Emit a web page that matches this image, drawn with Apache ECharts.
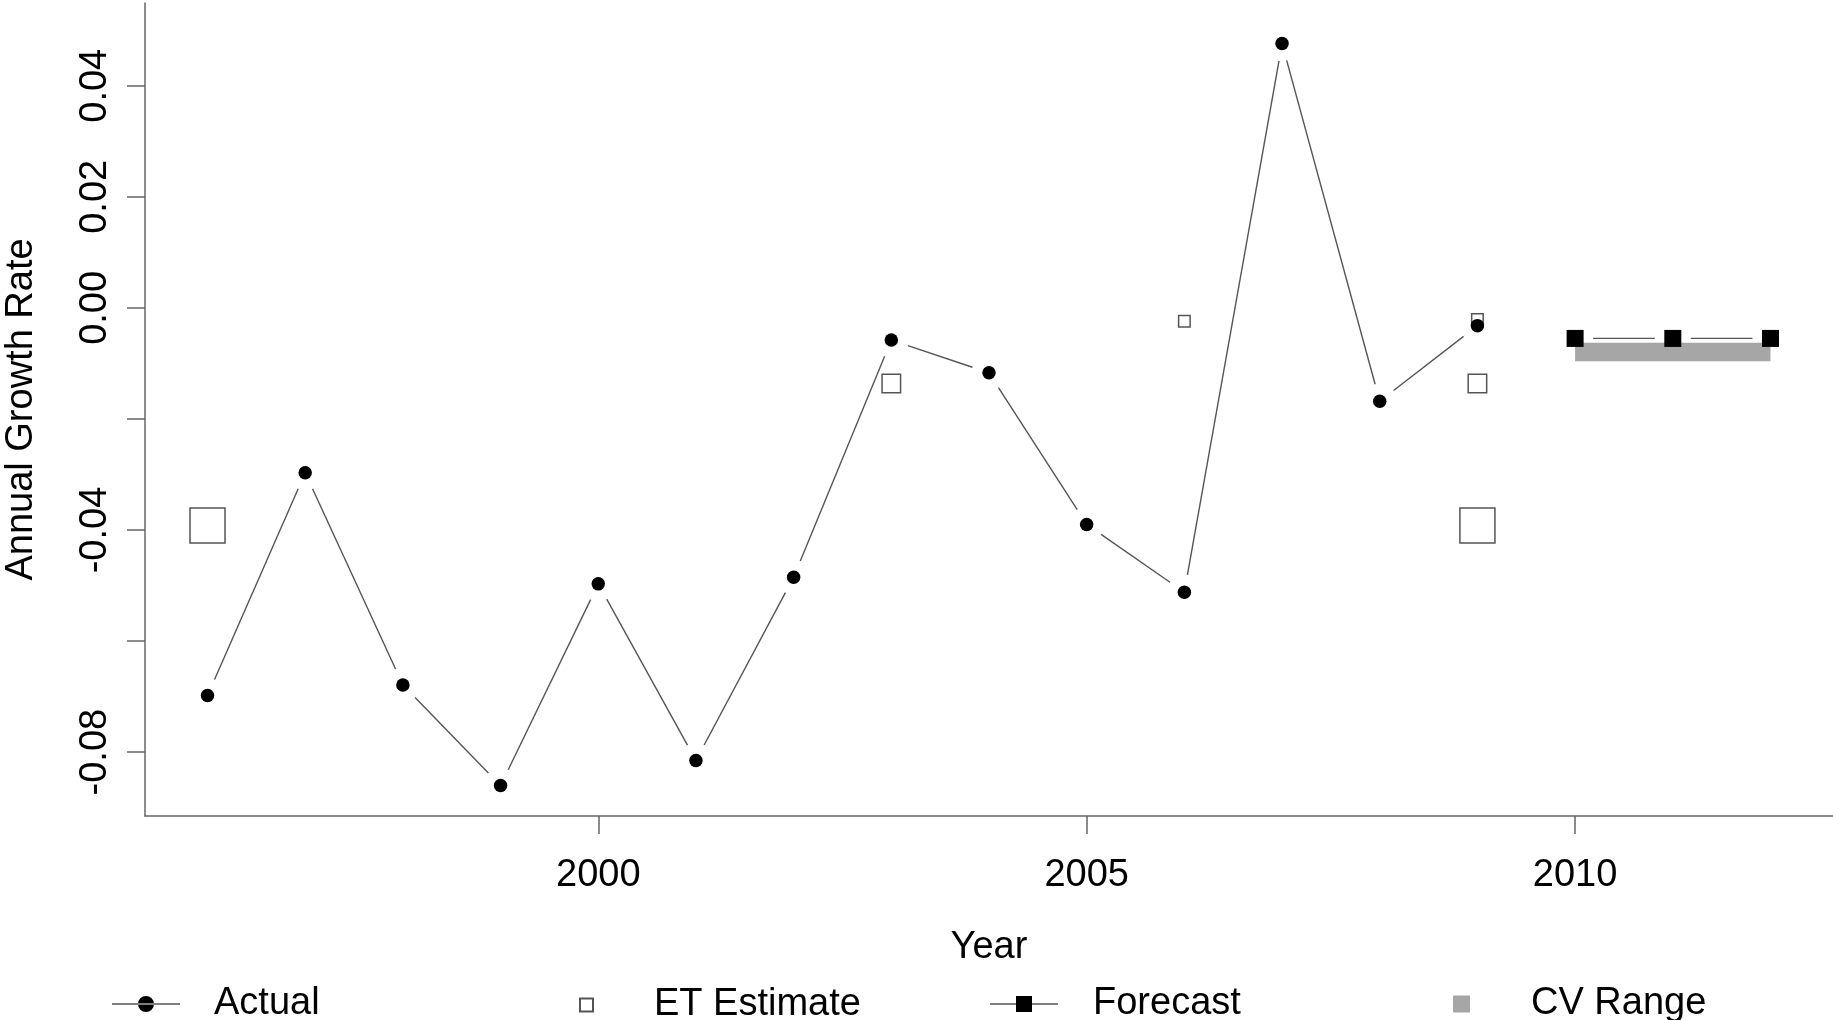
<!DOCTYPE html>
<html>
<head>
<meta charset="utf-8">
<script src="https://cdn.jsdelivr.net/npm/echarts@6/dist/echarts.min.js"></script>
<style>
  html, body { margin: 0; padding: 0; background: #fff; }
  #chart { width: 1833px; height: 1020px; }
</style>
</head>
<body>
<div id="chart"></div>
<script>
// actual growth rate, by year
const actualYears = [1996, 1997, 1998, 1999, 2000, 2001, 2002, 2003, 2004, 2005, 2006, 2007, 2008, 2009];
const actualValues = [-0.0698, -0.0297, -0.0679, -0.0860, -0.0497, -0.0815, -0.0485, -0.0058, -0.0117, -0.0390, -0.0512, 0.0476, -0.0168, -0.0032];

// ET estimates (tier = which marker size is used)
const etYears = [1996, 2003, 2006, 2009, 2009, 2009];
const etValues = [-0.0392, -0.0136, -0.0024, -0.0021, -0.0136, -0.0392];
const etTiers = [3, 2, 1, 1, 2, 3];

// forecast and its CV range
const forecastYears = [2010, 2011, 2012];
const forecastValues = [-0.0055, -0.0055, -0.0055];
const cvLow = [-0.0096, -0.0096, -0.0096];
const cvHigh = [-0.0063, -0.0063, -0.0063];

// axis ticks
const xTicks = [2000, 2005, 2010];
const yTicks = [-0.08, -0.06, -0.04, -0.02, 0, 0.02, 0.04];
const yTickLabels = [-0.08, -0.04, 0, 0.02, 0.04];

const FONT = "'Liberation Sans', Arial, sans-serif";
const FS = 38;
const tierSize = { 1: 11.5, 2: 18.5, 3: 35 };

// line segments that stop short of each point, like R's type = "b"
function gapSegments(xs, ys, gap, color, width) {
    return function (params, api) {
        const i = params.dataIndex;
        if (i >= xs.length - 1) return { type: 'group', children: [] };
        const a = api.coord([xs[i], ys[i]]);
        const b = api.coord([xs[i + 1], ys[i + 1]]);
        const dx = b[0] - a[0], dy = b[1] - a[1];
        const len = Math.hypot(dx, dy);
        if (len <= 2 * gap) return { type: 'group', children: [] };
        const ux = dx / len, uy = dy / len;
        return {
            type: 'line',
            shape: {
                x1: a[0] + ux * gap, y1: a[1] + uy * gap,
                x2: b[0] - ux * gap, y2: b[1] - uy * gap
            },
            style: { stroke: color, lineWidth: width }
        };
    };
}

const pairs = (xs, ys) => xs.map((x, i) => [x, ys[i]]);

const chart = echarts.init(document.getElementById('chart'));

const axisCommon = {
    axisLine: { onZero: false, lineStyle: { color: '#666', width: 1.5 } },
    axisTick: { length: 18, lineStyle: { color: '#666', width: 1.5 } },
    splitLine: { show: false },
    nameTextStyle: { fontFamily: FONT, fontSize: FS, color: '#000' }
};

const legendText = (pad) => ({
    fontFamily: FONT, fontSize: FS, color: '#000', padding: [0, 0, 0, pad]
});

chart.setOption({
    animation: false,
    backgroundColor: '#fff',
    grid: { left: 145, right: 0, top: 3, bottom: 204, outerBoundsMode: 'none', containLabel: false },
    xAxis: Object.assign({}, axisCommon, {
        type: 'value',
        min: 1995.36,
        max: 2012.64,
        name: 'Year',
        nameLocation: 'middle',
        nameGap: 113,
        axisTick: Object.assign({}, axisCommon.axisTick, { customValues: xTicks }),
        axisLabel: {
            customValues: xTicks,
            margin: 41,
            fontFamily: FONT, fontSize: FS, color: '#000',
            formatter: v => String(v)
        }
    }),
    yAxis: Object.assign({}, axisCommon, {
        type: 'value',
        min: -0.0915,
        max: 0.0549,
        name: 'Annual Growth Rate',
        nameLocation: 'middle',
        nameGap: 104,
        axisTick: Object.assign({}, axisCommon.axisTick, { customValues: yTicks }),
        axisLabel: {
            customValues: yTickLabels,
            rotate: 90,
            margin: 30,
            fontFamily: FONT, fontSize: FS, color: '#000',
            formatter: v => v.toFixed(2)
        }
    }),
    legend: [
        {
            data: [{ name: 'Actual', icon: 'path://M0,7.4H68V8.6H0Z M26,8A8,8 0 1 0 42,8A8,8 0 1 0 26,8Z' }],
            left: 112, top: 985, padding: 0, itemWidth: 68, itemHeight: 16,
            textStyle: legendText(29), selectedMode: false
        },
        {
            data: [{ name: 'ET Estimate', icon: 'rect' }],
            left: 579, top: 986, padding: 0, itemWidth: 13, itemHeight: 13,
            textStyle: legendText(56), selectedMode: false
        },
        {
            data: [{ name: 'Forecast', icon: 'path://M0,7.5H68V8.5H0Z M26,0H42V16H26Z' }],
            left: 990, top: 985, padding: 0, itemWidth: 68, itemHeight: 16,
            textStyle: legendText(30), selectedMode: false
        },
        {
            data: [{ name: 'CV Range', icon: 'rect' }],
            left: 1453, top: 985, padding: 0, itemWidth: 17, itemHeight: 17,
            textStyle: legendText(56), selectedMode: false
        }
    ],
    series: [
        {
            name: 'CV Range',
            type: 'custom',
            itemStyle: { color: '#a6a6a6' },
            data: pairs(forecastYears, cvHigh),
            renderItem: function (params, api) {
                if (params.dataIndex !== 0) return { type: 'group', children: [] };
                const top = forecastYears.map((x, i) => api.coord([x, cvHigh[i]]));
                const bottom = forecastYears.map((x, i) => api.coord([x, cvLow[i]])).reverse();
                return {
                    type: 'polygon',
                    shape: { points: top.concat(bottom) },
                    style: { fill: '#a6a6a6' }
                };
            },
            z: 1
        },
        {
            name: 'ET Estimate',
            type: 'scatter',
            symbol: 'rect',
            symbolSize: (val, params) => tierSize[etTiers[params.dataIndex]],
            itemStyle: { color: '#fff', borderColor: '#555', borderWidth: 1.5, opacity: 1 },
            data: pairs(etYears, etValues),
            z: 2
        },
        {
            name: 'actualLine',
            type: 'custom',
            data: pairs(actualYears, actualValues),
            renderItem: gapSegments(actualYears, actualValues, 17.5, '#555', 1.4),
            z: 3
        },
        {
            name: 'Actual',
            type: 'scatter',
            symbol: 'circle',
            symbolSize: 13.5,
            itemStyle: { color: '#000', opacity: 1 },
            data: pairs(actualYears, actualValues),
            z: 4
        },
        {
            name: 'forecastLine',
            type: 'custom',
            data: pairs(forecastYears, forecastValues),
            renderItem: gapSegments(forecastYears, forecastValues, 18, '#555', 1.4),
            z: 3
        },
        {
            name: 'Forecast',
            type: 'scatter',
            symbol: 'rect',
            symbolSize: 17,
            itemStyle: { color: '#000', opacity: 1 },
            data: pairs(forecastYears, forecastValues),
            z: 4
        }
    ]
});
</script>
</body>
</html>
